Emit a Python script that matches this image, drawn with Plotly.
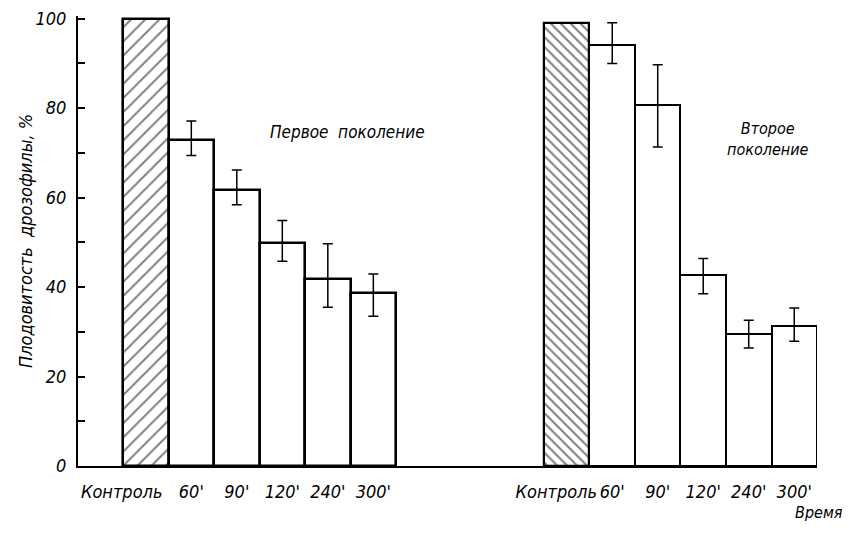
import plotly.graph_objects as go

# ---- data ----
labels = ["Контроль", "60'", "90'", "120'", "240'", "300'"]

gen1_vals = [100.0, 72.8, 61.7, 49.8, 41.8, 38.6]
gen1_high = [None, 77.1, 66.2, 54.9, 49.7, 42.9]
gen1_low = [None, 69.4, 58.4, 45.8, 35.5, 33.5]

gen2_vals = [99.1, 94.2, 80.8, 42.6, 29.5, 31.2]
gen2_high = [None, 99.1, 89.7, 46.4, 32.6, 35.3]
gen2_low = [None, 90.0, 71.3, 38.5, 26.4, 27.9]

y_ticks = [0, 20, 40, 60, 80, 100]

gen1_note = "Первое  поколение"
gen2_note = "Второе<br>поколение"
y_title = "Плодовитость  дрозофилы, %"
x_title = "Время"

# ---- layout helpers ----
GROUP2_OFFSET = 9.25
x1 = [i for i in range(len(labels))]
x2 = [GROUP2_OFFSET + i for i in range(len(labels))]

FONT = "DejaVu Sans Condensed, Liberation Sans Narrow, sans-serif"

# page body adds an 8px margin, so the figure is shrunk by that amount
PLOT_L, PLOT_R, PLOT_T, PLOT_B = 78, 817, 16, 466   # on-screen plot box


def px(sx):
    return (sx - PLOT_L) / (PLOT_R - PLOT_L)


def py(sy):
    return (PLOT_B - sy) / (PLOT_B - PLOT_T)


def plus(vals, hi):
    return [h - v for v, h in zip(vals, hi)]


def minus(vals, lo):
    return [v - l for v, l in zip(vals, lo)]


fig = go.Figure()

# control bars (hatched)
fig.add_trace(go.Bar(
    x=[x1[0]], y=[gen1_vals[0]], width=1,
    marker=dict(color="white", line=dict(color="black", width=2.6),
                pattern=dict(shape="/", size=10, solidity=0.2,
                             fgcolor="black", bgcolor="white")),
    showlegend=False, hoverinfo="skip"))
fig.add_trace(go.Bar(
    x=[x2[0]], y=[gen2_vals[0]], width=1,
    marker=dict(color="white", line=dict(color="black", width=2.2),
                pattern=dict(shape="\\", size=7, solidity=0.28,
                             fgcolor="black", bgcolor="white")),
    showlegend=False, hoverinfo="skip"))

# treatment bars with error bars
fig.add_trace(go.Bar(
    x=x1[1:], y=gen1_vals[1:], width=1,
    marker=dict(color="white", line=dict(color="black", width=2.6)),
    error_y=dict(type="data", symmetric=False,
                 array=plus(gen1_vals[1:], gen1_high[1:]),
                 arrayminus=minus(gen1_vals[1:], gen1_low[1:]),
                 color="black", thickness=1.5, width=5),
    showlegend=False, hoverinfo="skip"))
fig.add_trace(go.Bar(
    x=x2[1:], y=gen2_vals[1:], width=1,
    marker=dict(color="white", line=dict(color="black", width=2.0)),
    error_y=dict(type="data", symmetric=False,
                 array=plus(gen2_vals[1:], gen2_high[1:]),
                 arrayminus=minus(gen2_vals[1:], gen2_low[1:]),
                 color="black", thickness=1.5, width=5),
    showlegend=False, hoverinfo="skip"))

tickvals = [x1[0] - 0.53] + x1[1:] + [x2[0] - 0.23] + x2[1:]
ticktext = labels + labels

W, H = 842, 534
fig.update_layout(
    width=W, height=H,
    margin=dict(l=PLOT_L - 8, r=W - (PLOT_R - 8), t=PLOT_T - 8, b=H - (PLOT_B - 8),
                autoexpand=False),
    paper_bgcolor="white", plot_bgcolor="white",
    barmode="overlay", bargap=0,
    font=dict(family=FONT, color="black", size=18, style="italic"),
    xaxis=dict(range=[-1.49, GROUP2_OFFSET + 5.5], showgrid=False, zeroline=False,
               showline=True, linecolor="black", linewidth=2.2,
               tickmode="array", tickvals=tickvals, ticktext=ticktext,
               ticks="", ticklabelstandoff=8, tickangle=0, automargin=False,
               ticklabeloverflow="allow",
               tickfont=dict(family=FONT, size=18, style="italic", color="black")),
    yaxis=dict(range=[0, 100.6], showgrid=False, zeroline=False,
               showline=True, linecolor="black", linewidth=2.2,
               tickmode="array", tickvals=y_ticks, automargin=False,
               ticks="inside", ticklen=7, tickwidth=1.5, tickcolor="black",
               ticklabelstandoff=6, ticklabeloverflow="allow",
               minor=dict(dtick=10, ticks="inside", ticklen=7, tickwidth=1.5,
                          tickcolor="black"),
               tickfont=dict(family=FONT, size=18, style="italic", color="black")),
)

fig.add_annotation(text=y_title, textangle=-90, xref="paper", yref="paper",
                   x=px(25), y=py(241), xanchor="center", yanchor="middle",
                   showarrow=False, font=dict(family=FONT, size=18, style="italic"))
fig.add_annotation(text=gen1_note, xref="paper", yref="paper",
                   x=px(347), y=py(132),
                   xanchor="center", yanchor="middle", showarrow=False,
                   font=dict(family=FONT, size=17, style="italic"))
fig.add_annotation(text=gen2_note, xref="paper", yref="paper",
                   x=px(768), y=py(139),
                   xanchor="center", yanchor="middle", showarrow=False,
                   font=dict(family=FONT, size=16, style="italic"))
fig.add_annotation(text=x_title, xref="paper", yref="paper",
                   x=px(819), y=py(513),
                   xanchor="center", yanchor="middle", showarrow=False,
                   font=dict(family=FONT, size=16, style="italic"))

fig.write_html("out.html")
